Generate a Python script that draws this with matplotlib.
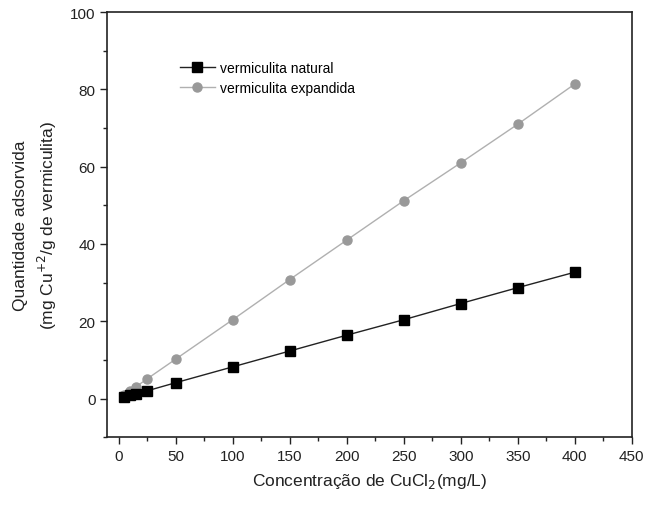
import matplotlib
matplotlib.use("Agg")
import matplotlib.pyplot as plt
from matplotlib.ticker import MultipleLocator

plt.rcParams['font.family'] = ['Liberation Sans', 'DejaVu Sans']

conc = [5, 10, 15, 25, 50, 100, 150, 200, 250, 300, 350, 400]
natural = [0.4, 0.8, 1.2, 2.0, 4.1, 8.2, 12.3, 16.4, 20.4, 24.6, 28.7, 32.7]
expandida = [1.0, 2.0, 3.0, 5.1, 10.2, 20.4, 30.8, 41.0, 51.2, 61.0, 71.0, 81.4]

fig = plt.figure(figsize=(6.46, 5.06), dpi=100)
ax = fig.add_axes([0.166, 0.134, 0.812, 0.840])

ax.plot(conc, natural, color='#222222', lw=1.0, marker='s', ms=6.5,
        mfc='black', mec='black', label='vermiculita natural', zorder=3)
ax.plot(conc, expandida, color='#b0b0b0', lw=1.0, marker='o', ms=6.5,
        mfc='#999999', mec='#999999', label='vermiculita expandida', zorder=2)

ax.set_xlim(-10, 450)
ax.set_ylim(-10, 100)
ax.xaxis.set_major_locator(MultipleLocator(50))
ax.xaxis.set_minor_locator(MultipleLocator(25))
ax.yaxis.set_major_locator(MultipleLocator(20))
ax.yaxis.set_minor_locator(MultipleLocator(10))
ax.tick_params(which='major', direction='out', length=5, width=1, labelsize=11, colors='#222222')
ax.tick_params(which='minor', direction='out', length=3, width=1, colors='#222222')
for s in ax.spines.values():
    s.set_linewidth(1.2)
    s.set_color('#222222')

ax.set_xlabel('Concentração de CuCl$_2$(mg/L)', fontsize=12.5, color='#222222', labelpad=6)
ax.set_ylabel('Quantidade adsorvida\n(mg Cu$^{+2}$/g de vermiculita)', fontsize=12.5,
              color='#222222', labelpad=8, linespacing=1.4)

leg = ax.legend(loc='upper left', bbox_to_anchor=(0.115, 0.915), frameon=False,
                fontsize=10, handlelength=2.5, handletextpad=0.4, labelspacing=0.45)

fig.savefig('out.png', dpi=100)
